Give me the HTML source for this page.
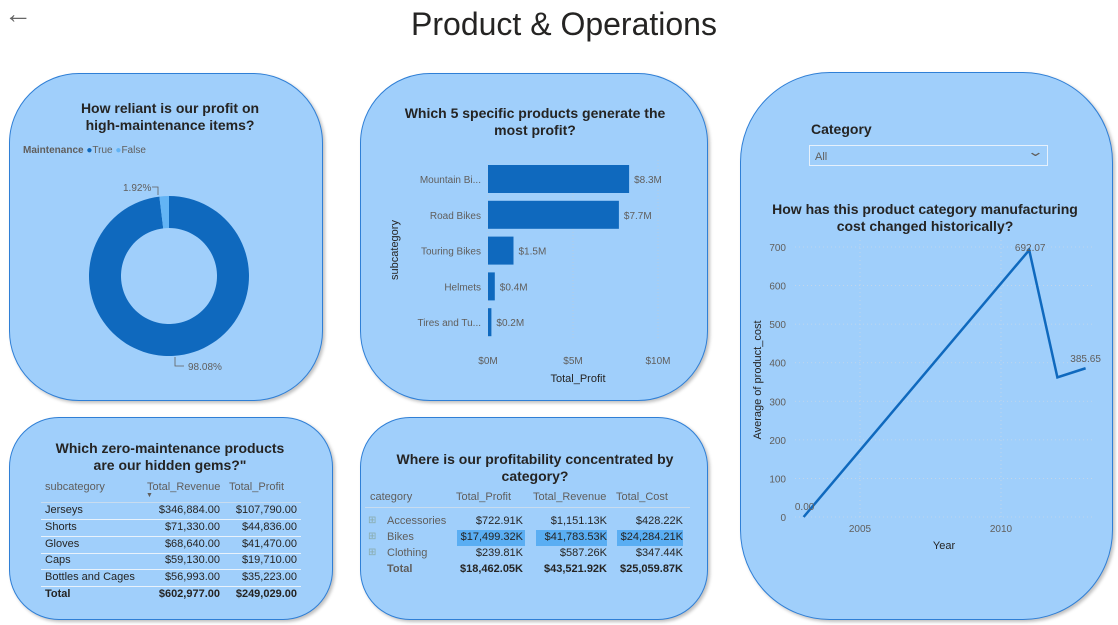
<!DOCTYPE html>
<html><head><meta charset="utf-8">
<style>
body{margin:0;width:1118px;height:625px;background:#fff;position:relative;overflow:hidden;font-family:"Liberation Sans",sans-serif;}
.a{position:absolute;}
.panel{position:absolute;background:#a0cffb;border:1px solid #2f7fd6;box-sizing:border-box;box-shadow:2px 2px 3px rgba(0,0,0,0.25);}
.t{position:absolute;text-align:center;font-weight:bold;color:#252423;font-size:14px;line-height:17px;}
.c{position:absolute;font-size:11px;color:#252423;white-space:nowrap;}
.g{color:#605e5c;}
</style></head><body>
<div class="a" style="left:4px;top:-2px;font-size:28px;color:#666;">&#8592;</div>
<div class="a" style="left:0;width:1128px;top:6px;text-align:center;font-size:32px;color:#252423;">Product &amp; Operations</div>

<div class="panel" style="left:9px;top:73px;width:314px;height:328px;border-radius:70px;"></div>
<div class="panel" style="left:360px;top:73px;width:348px;height:328px;border-radius:70px;"></div>
<div class="panel" style="left:740px;top:72px;width:373px;height:548px;border-radius:90px;"></div>
<div class="panel" style="left:9px;top:417px;width:324px;height:203px;border-radius:50px;"></div>
<div class="panel" style="left:360px;top:417px;width:348px;height:203px;border-radius:50px;"></div>

<div class="t" style="left:20px;width:300px;top:100px;">How reliant is our profit on<br>high-maintenance items?</div>
<div class="c" style="left:23px;top:145px;font-size:10px;"><b class="g">Maintenance</b> <span style="color:#0f69be">&#9679;</span><span class="g">True</span> <span style="color:#63b4f5">&#9679;</span><span class="g">False</span></div>

<svg class="a" style="left:0;top:0" width="1118" height="625" id="svg">
</svg>

<div class="t" style="left:380px;width:310px;top:105px;">Which 5 specific products generate the<br>most profit?</div>
<div class="t" style="left:20px;width:300px;top:440px;">Which zero-maintenance products<br>are our hidden gems?"</div>
<div class="t" style="left:370px;width:330px;top:451px;">Where is our profitability concentrated by<br>category?</div>
<div class="c" style="left:811px;top:121px;font-size:14px;font-weight:bold;">Category</div>
<div class="a" style="left:809px;top:145px;width:239px;height:21px;border:1px solid #e6f1fc;box-sizing:border-box;font-size:11px;color:#605e5c;padding:5px 0 0 5px;">All<span style="position:absolute;right:6px;top:-2px;font-size:13px;transform:scaleX(1.6);">&#8964;</span></div>
<div class="t" style="left:750px;width:350px;top:201px;">How has this product category manufacturing<br>cost changed historically?</div>

<script>
const NS="http://www.w3.org/2000/svg";
const svg=document.getElementById('svg');
function mk(tag,attrs,name,txt){const e=document.createElementNS(NS,tag);for(const k in attrs)e.setAttribute(k,attrs[k]);


if(txt!==undefined)e.textContent=txt;svg.appendChild(e);return e;}

// Donut data
const donutLabels=["True","False"];
const donutValues=[98.08,1.92];
const donutColors=["#0f69be","#63b4f5"];
(function(){const cx=169,cy=276,R=80,r=48;let a=0;const tot=donutValues.reduce((s,v)=>s+v,0);
donutValues.forEach((v,i)=>{const a0=a,a1=a+v/tot*2*Math.PI;a=a1;
const p=(ang,rad)=>[cx+rad*Math.sin(ang),cy-rad*Math.cos(ang)];
const [x0,y0]=p(a0,R),[x1,y1]=p(a1,R),[x2,y2]=p(a1,r),[x3,y3]=p(a0,r);const lg=(a1-a0)>Math.PI?1:0;
mk('path',{d:`M${x0},${y0}A${R},${R} 0 ${lg} 1 ${x1},${y1}L${x2},${y2}A${r},${r} 0 ${lg} 0 ${x3},${y3}Z`,fill:donutColors[i]},'donut-slice-'+donutLabels[i].toLowerCase());});
mk('text',{x:123,y:191,'font-size':10,fill:'#605e5c'},'donut-label-false',donutValues[1].toFixed(2)+'%');
mk('path',{d:'M152,187h6v8',fill:'none',stroke:'#605e5c','stroke-width':0.8},'donut-leader-false');
mk('text',{x:188,y:370,'font-size':10,fill:'#605e5c'},'donut-label-true',donutValues[0].toFixed(2)+'%');
mk('path',{d:'M175,357v9h9',fill:'none',stroke:'#605e5c','stroke-width':0.8},'donut-leader-true');
})();

// Bar data
const barCats=["Mountain Bi...","Road Bikes","Touring Bikes","Helmets","Tires and Tu..."];
const barValues=[8.3,7.7,1.5,0.4,0.2];
const barTicks=[0,5,10];
(function(){const x=v=>488+v*17,y0=179,step=35.8,h=28;
barTicks.forEach(t=>{mk('line',{x1:x(t),x2:x(t),y1:160,y2:340,stroke:'#bcd',"stroke-dasharray":'1,2','stroke-width':0.7},'bar-gridline');
mk('text',{x:x(t),y:364,'font-size':10,fill:'#605e5c','text-anchor':'middle'},'x-tick-label','$'+t+'M');});
barCats.forEach((c,i)=>{const yc=y0+i*step;
mk('rect',{x:x(0),y:yc-h/2,width:Math.max(2,x(barValues[i])-x(0)),height:h,fill:'#0f69be'},'bar-'+i);
mk('text',{x:481,y:yc+4,'font-size':10,fill:'#605e5c','text-anchor':'end'},'bar-category-label',c);
mk('text',{x:x(barValues[i])+5,y:yc+4,'font-size':10,fill:'#605e5c'},'bar-value-label','$'+barValues[i]+'M');});
mk('text',{x:578,y:382,'font-size':11,fill:'#252423','text-anchor':'middle'},'x-axis-title','Total_Profit');
mk('text',{x:0,y:0,'font-size':11,fill:'#252423','text-anchor':'middle',transform:'translate(398,250) rotate(-90)'},'y-axis-title','subcategory');
})();

// Line data
const years=[2003,2011,2012,2013];
const costs=[0,692.07,362,385.65];
const yTicks=[0,100,200,300,400,500,600,700];
const xTicks=[2005,2010];
(function(){const X=y=>860+(y-2005)*28.2,Y=v=>517-v*270/700;
yTicks.forEach(t=>{mk('line',{x1:795,x2:1093,y1:Y(t),y2:Y(t),stroke:'#c8d8e8','stroke-dasharray':'1,3','stroke-width':0.8},'y-gridline');
mk('text',{x:786,y:Y(t)+4,'font-size':10,fill:'#605e5c','text-anchor':'end'},'y-tick-label',t);});
xTicks.forEach(t=>{mk('line',{x1:X(t),x2:X(t),y1:240,y2:517,stroke:'#c8d8e8','stroke-dasharray':'1,3','stroke-width':0.8},'x-gridline');
mk('text',{x:X(t),y:532,'font-size':10,fill:'#605e5c','text-anchor':'middle'},'x-tick-label',t);});
mk('polyline',{points:years.map((y,i)=>X(y)+','+Y(costs[i])).join(' '),fill:'none',stroke:'#0f69be','stroke-width':2.5},'cost-line');
[0,1,3].forEach(i=>{mk('text',{x:X(years[i])+(i==3?0:1),y:Y(costs[i])-(i==0?7:6)+(i==1?7:0),'font-size':10,fill:'#605e5c','text-anchor':'middle'},'data-label',costs[i].toFixed(2));});
mk('text',{x:944,y:549,'font-size':11,fill:'#252423','text-anchor':'middle'},'x-axis-title','Year');
mk('text',{x:0,y:0,'font-size':11,fill:'#252423','text-anchor':'middle',transform:'translate(761,380) rotate(-90)'},'y-axis-title','Average of product_cost');
})();

function div(html,style,name){const d=document.createElement('div');d.className='c';d.style.cssText=style;d.innerHTML=html;


document.body.appendChild(d);return d;}
// Table 1
const gemNames=["Jerseys","Shorts","Gloves","Caps","Bottles and Cages"];
const gemRevenue=["$346,884.00","$71,330.00","$68,640.00","$59,130.00","$56,993.00"];
const gemProfit=["$107,790.00","$44,836.00","$41,470.00","$19,710.00","$35,223.00"];
div('subcategory','left:45px;top:481px;color:#605e5c','gems-header-subcategory');
div('Total_Revenue','left:147px;top:481px;color:#605e5c','gems-header-revenue');
div('Total_Profit','left:229px;top:481px;color:#605e5c','gems-header-profit');
div('&#9660;','left:146px;top:492px;color:#605e5c;font-size:7px','sort-indicator');
div('','left:41px;top:502px;width:260px;height:1px;background:#c8dcef','gems-header-border');
gemNames.forEach((n,i)=>{const t=504+i*16.8;
div(n,`left:45px;top:${t}px`,'gems-row-name');
div(gemRevenue[i],`right:${1118-220}px;top:${t}px`,'gems-row-revenue');
div(gemProfit[i],`right:${1118-297}px;top:${t}px`,'gems-row-profit');
div('',`left:41px;top:${t+15}px;width:260px;height:1px;background:#e8f2fb`,'gems-row-border');});
div('<b>Total</b>','left:45px;top:588px','gems-total-label');
div('<b>$602,977.00</b>','right:898px;top:588px','gems-total-revenue');
div('<b>$249,029.00</b>','right:821px;top:588px','gems-total-profit');

// Table 2
const catNames=["Accessories","Bikes","Clothing"];
const catProfit=["$722.91K","$17,499.32K","$239.81K"];
const catRevenue=["$1,151.13K","$41,783.53K","$587.26K"];
const catCost=["$428.22K","$24,284.21K","$347.44K"];
div('category','left:370px;top:491px;color:#605e5c','cat-header-category');
div('Total_Profit','left:456px;top:491px;color:#605e5c','cat-header-profit');
div('Total_Revenue','left:533px;top:491px;color:#605e5c','cat-header-revenue');
div('Total_Cost','left:616px;top:491px;color:#605e5c','cat-header-cost');
div('','left:365px;top:507px;width:325px;height:1px;background:#c8dcef','cat-header-border');
div('','left:457px;top:530px;width:68px;height:16px;background:#5aaef3','bikes-profit-highlight');
div('','left:536px;top:530px;width:71px;height:16px;background:#5aaef3','bikes-revenue-highlight');
div('','left:617px;top:530px;width:66px;height:16px;background:#5aaef3','bikes-cost-highlight');
catNames.forEach((n,i)=>{const t=515+i*16;
div('&#8862;',`left:368px;top:${t}px;color:#8aa;font-size:10px`,'expand-icon');
div(n,`left:387px;top:${t}px;color:#605e5c`,'cat-row-name');
div(catProfit[i],`right:${1118-523}px;top:${t}px`,'cat-row-profit');
div(catRevenue[i],`right:${1118-607}px;top:${t}px`,'cat-row-revenue');
div(catCost[i],`right:${1118-683}px;top:${t}px`,'cat-row-cost');});
div('<b>Total</b>','left:387px;top:563px;color:#605e5c','cat-total-label');
div('<b>$18,462.05K</b>','right:595px;top:563px','cat-total-profit');
div('<b>$43,521.92K</b>','right:511px;top:563px','cat-total-revenue');
div('<b>$25,059.87K</b>','right:435px;top:563px','cat-total-cost');
</script>
</body></html>
